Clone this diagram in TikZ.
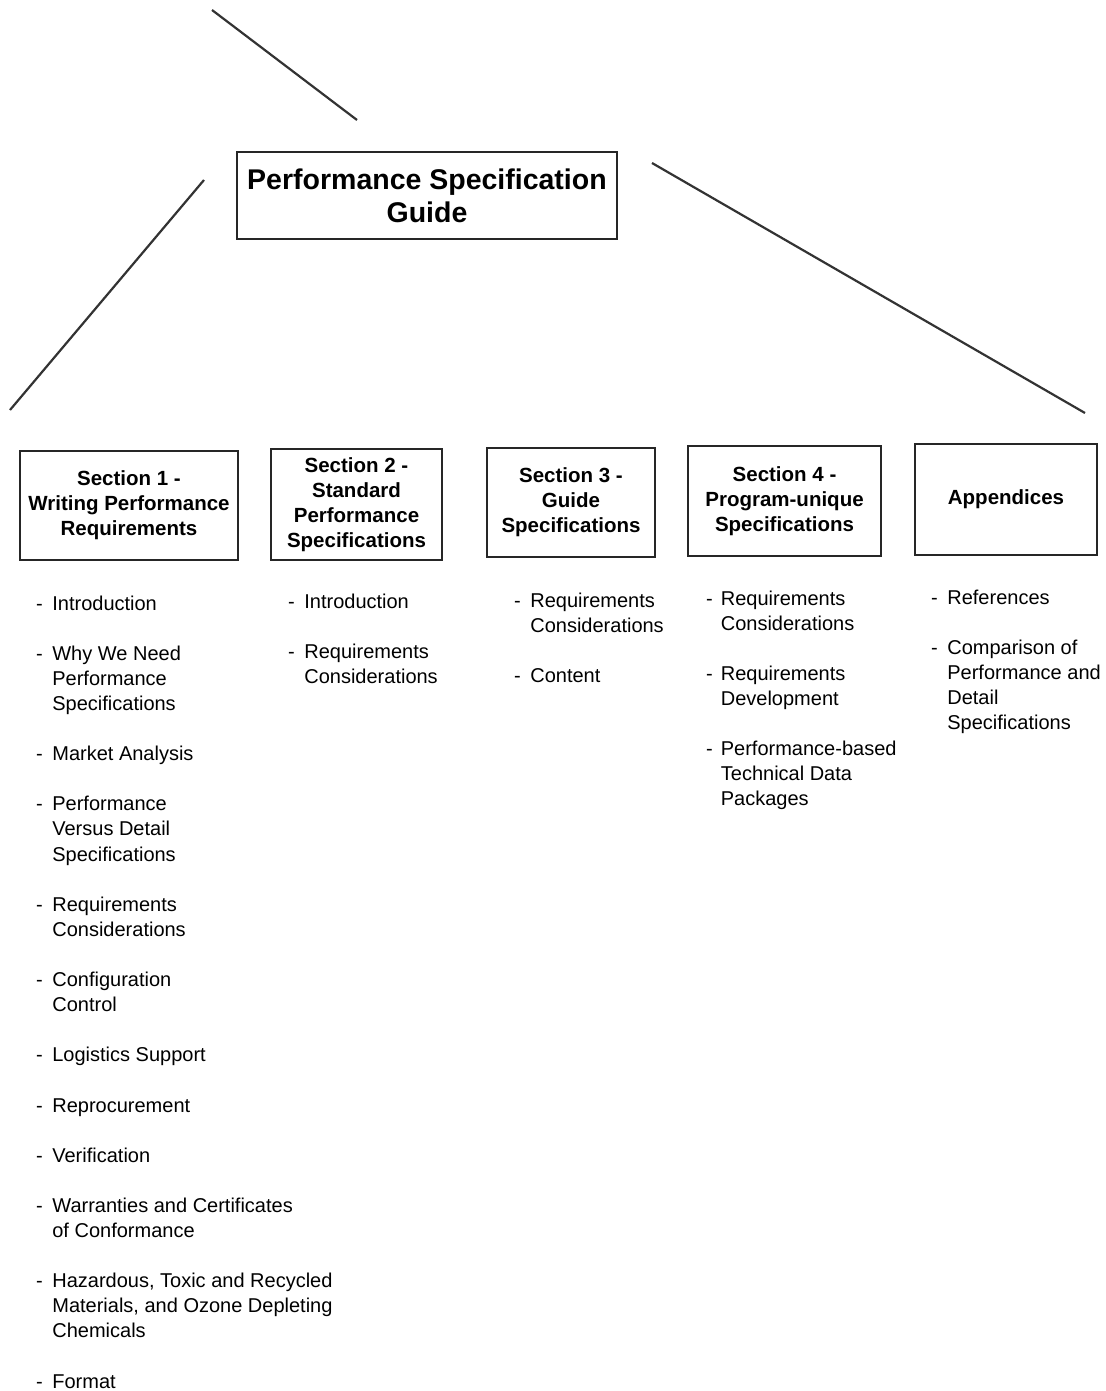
\documentclass[tikz,border=0pt]{standalone}
\usepackage{fontspec}
\setmainfont{Liberation Sans}
\usetikzlibrary{positioning}

\begin{document}
\begin{tikzpicture}[x=1pt, y=-1pt,
  guide/.style={
    rectangle, draw=black!85, line width=2pt,
    minimum width=380pt, minimum height=87pt,
    align=center, inner sep=0pt,
    font=\fontsize{28.5}{33}\selectfont\bfseries
  },
  section/.style={
    rectangle, draw=black!85, line width=2pt,
    align=center, inner sep=0pt,
    font=\fontsize{20.5}{25.1}\selectfont\bfseries
  },
  topics/.style={
    anchor=base west, inner sep=0pt,
    font=\fontsize{20}{25.1}\selectfont
  },
  branch/.style={
    line width=2.2pt, black!80
  }
]
\useasboundingbox (0,0) rectangle (1105,1391);

% ==================== GUIDE ====================

\node (psg) [guide] at (427, 195.5) {Performance Specification\\Guide};

% ==================== SECTIONS ====================

\node (sec1) [section, minimum width=218pt, minimum height=109pt] at (129, 505.5)
    {Section 1 -\\Writing Performance\\Requirements};
\node (sec2) [section, minimum width=171pt, minimum height=111pt] at (356.5, 504.5)
    {Section 2 -\\Standard\\Performance\\Specifications};
\node (sec3) [section, minimum width=168pt, minimum height=109pt] at (571, 502.5)
    {Section 3 -\\Guide\\Specifications};
\node (sec4) [section, minimum width=193pt, minimum height=110pt] at (784.5, 501)
    {Section 4 -\\Program-unique\\Specifications};
\node (app) [section, minimum width=182pt, minimum height=111pt] at (1006, 499.5)
    {Appendices};

% ==================== BRANCH LINES ====================

\coordinate (c0a) at (212, 10);
\coordinate (c0b) at (357, 120);
\coordinate (c1a) at (204, 180);
\coordinate (c1b) at (10, 410);
\coordinate (c2a) at (652, 163);
\coordinate (c2b) at (1085, 413);

\draw [branch] (c0a) -- (c0b);
\draw [branch] (c1a) -- (c1b);
\draw [branch] (c2a) -- (c2b);

% ==================== TOPIC LISTS ====================

% Section 1
\node (list1) [topics] at (36, 610) {%
\begin{tabular}[t]{@{}l@{\hspace{9.5pt}}l@{}}
- & Introduction\\[25.1pt]
- & Why We Need\\
  & Performance\\
  & Specifications\\[25.1pt]
- & Market Analysis\\[25.1pt]
- & Performance\\
  & Versus Detail\\
  & Specifications\\[25.1pt]
- & Requirements\\
  & Considerations\\[25.1pt]
- & Configuration\\
  & Control\\[25.1pt]
- & Logistics Support\\[25.1pt]
- & Reprocurement\\[25.1pt]
- & Verification\\[25.1pt]
- & Warranties and Certificates\\
  & of Conformance\\[25.1pt]
- & Hazardous, Toxic and Recycled\\
  & Materials, and Ozone Depleting\\
  & Chemicals\\[25.1pt]
- & Format
\end{tabular}};

% Section 2
\node (list2) [topics] at (288, 608) {%
\begin{tabular}[t]{@{}l@{\hspace{9.5pt}}l@{}}
- & Introduction\\[25.1pt]
- & Requirements\\
  & Considerations
\end{tabular}};

% Section 3
\node (list3) [topics] at (514, 607) {%
\begin{tabular}[t]{@{}l@{\hspace{9.5pt}}l@{}}
- & Requirements\\
  & Considerations\\[25.1pt]
- & Content
\end{tabular}};

% Section 4
\node (list4) [topics] at (706, 605) {%
\begin{tabular}[t]{@{}l@{\hspace{8pt}}l@{}}
- & Requirements\\
  & Considerations\\[25.1pt]
- & Requirements\\
  & Development\\[25.1pt]
- & Performance-based\\
  & Technical Data\\
  & Packages
\end{tabular}};

% Appendices
\node (list5) [topics] at (931, 604) {%
\begin{tabular}[t]{@{}l@{\hspace{9.5pt}}l@{}}
- & References\\[25.1pt]
- & Comparison of\\
  & Performance and\\
  & Detail\\
  & Specifications
\end{tabular}};

\end{tikzpicture}
\end{document}
